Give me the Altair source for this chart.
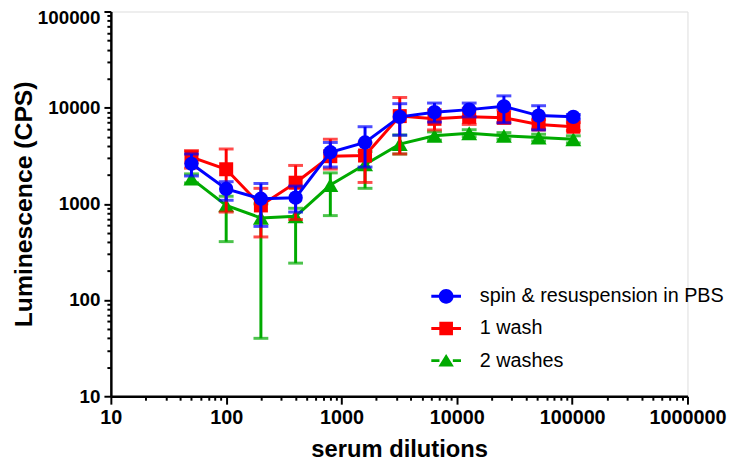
import altair as alt
import pandas as pd

dilutions = [50, 100, 200, 400, 800, 1600, 3200, 6400, 12800, 25600, 51200, 102400]
series_names = ["spin & resuspension in PBS", "1 wash", "2 washes"]
colors = ["#0000FF", "#FF0000", "#00AA00"]

blue_mean = [2610, 1430, 1130, 1160, 3440, 4350, 8030, 8980, 9550, 10330, 8280, 8030]
blue_hi = [3300, 1700, 1630, 1530, 4350, 6340, 11000, 11170, 11170, 13270, 10480, 8500]
blue_lo = [1950, 1090, 583, 822, 2415, 2415, 5170, 7090, 8030, 6970, 5870, 7600]

red_mean = [3060, 2290, 963, 1660, 3130, 3180, 8170, 7660, 8030, 7850, 6700, 6340]
red_hi = [3580, 3720, 1450, 2510, 4700, 4300, 12770, 9500, 9800, 9500, 7500, 7000]
red_lo = [2350, 822, 453, 687, 2300, 1670, 3300, 5870, 6700, 6970, 6000, 5800]

green_mean = [1830, 963, 714, 743, 1570, 2570, 4180, 5100, 5420, 5100, 4900, 4700]
green_hi = [2050, 1200, 1000, 900, 2100, 3500, 5200, 5600, 5900, 5500, 5300, 5100]
green_lo = [1650, 405, 40, 242, 755, 1450, 3300, 4600, 5000, 4700, 4500, 4300]

tick_values = [k * 10 ** e for e in range(1, 6) for k in range(1, 10)] + [1000000]
point_shapes = ["circle", "square", "triangle-up"]
point_sizes = [210, 200, 260]
legend_paths = [
    "M-1,-0.1H-0.45V0.1H-1Z M0.45,-0.1H1V0.1H0.45Z M0.5,0A0.5,0.5 0 1,1 -0.5,0A0.5,0.5 0 1,1 0.5,0Z",
    "M-1,-0.1H-0.45V0.1H-1Z M0.45,-0.1H1V0.1H0.45Z M-0.46,-0.46H0.46V0.46H-0.46Z",
    "M-1,-0.1H-0.45V0.1H-1Z M0.45,-0.1H1V0.1H0.45Z M0,-0.45L0.52,0.4L-0.52,0.4Z",
]

rows = []
for name, m, lo, hi in zip(series_names,
                           [blue_mean, red_mean, green_mean],
                           [blue_lo, red_lo, green_lo],
                           [blue_hi, red_hi, green_hi]):
    for x, a, b, c in zip(dilutions, m, lo, hi):
        rows.append({"series": name, "x": x, "mean": a, "lo": b, "hi": c})
df = pd.DataFrame(rows)

FONT = "Liberation Sans"
is_major = "abs(log(datum.value)/LN10 - round(log(datum.value)/LN10)) < 0.001"
label_expr = f"{is_major} ? format(datum.value, 'd') : ''"

xaxis = alt.Axis(
    title="serum dilutions", values=tick_values, labelExpr=label_expr,
    labelOverlap=False, labelFlush=False, grid=False,
    tickSize={"condition": {"test": is_major, "value": 8}, "value": 4},
    tickWidth=2, tickColor="black", domainColor="black", domainWidth=2.5,
    labelFont=FONT, labelFontSize=20, labelFontWeight="bold", labelColor="black",
    labelPadding=4, titleFont=FONT, titleFontSize=24, titleFontWeight="bold",
    titleColor="black", titlePadding=10,
)
yaxis = alt.Axis(
    title="Luminescence (CPS)", values=tick_values[:-1], labelExpr=label_expr,
    labelOverlap=False, labelFlush=False, grid=False,
    tickSize={"condition": {"test": is_major, "value": 7}, "value": 4},
    labelOffset={"condition": {"test": "datum.value >= 99999", "value": 6}, "value": 0},
    tickWidth=2, tickColor="black", domainColor="black", domainWidth=2.5,
    labelFont=FONT, labelFontSize=19, labelFontWeight="bold", labelColor="black",
    labelPadding=4, titleFont=FONT, titleFontSize=25, titleFontWeight="bold",
    titleColor="black", titlePadding=1,
)

xscale = alt.Scale(type="log", domain=[10, 1000000], nice=False)
yscale = alt.Scale(type="log", domain=[10, 100000], nice=False)
cscale = alt.Scale(domain=series_names, range=colors)

X = alt.X("x:Q", scale=xscale, axis=xaxis)
no_legend_color = alt.Color("series:N", scale=cscale, legend=None)

layers = []
for idx in [2, 1, 0]:
    name = series_names[idx]
    base = alt.Chart(df).transform_filter(alt.datum.series == name)
    layers.append(base.mark_rule(strokeWidth=3).encode(
        x=X, y=alt.Y("lo:Q", scale=yscale, axis=yaxis), y2="hi:Q", color=no_legend_color))
    for f in ["lo", "hi"]:
        layers.append(base.mark_tick(orient="horizontal", size=15, thickness=3).encode(
            x=X, y=alt.Y(f"{f}:Q", scale=yscale, axis=yaxis), color=no_legend_color))
    layers.append(base.mark_line(strokeWidth=3).encode(
        x=X, y=alt.Y("mean:Q", scale=yscale, axis=yaxis), color=no_legend_color))
    layers.append(base.mark_point(shape=point_shapes[idx], filled=True, opacity=1,
                                  size=point_sizes[idx]).encode(
        x=X, y=alt.Y("mean:Q", scale=yscale, axis=yaxis), color=no_legend_color))

legend = alt.Legend(
    title=None, orient="none", legendX=324, legendY=273, padding=0,
    labelFont=FONT, labelFontSize=20, labelColor="black", labelOffset=19,
    labelLimit=0, symbolSize=900, symbolStrokeWidth=0, symbolOpacity=1, rowPadding=7.5,
)
legend_layer = alt.Chart(df).transform_filter("false").mark_point(
    filled=True, opacity=1, size=900).encode(
    x=X, y=alt.Y("mean:Q", scale=yscale, axis=yaxis),
    color=alt.Color("series:N", scale=cscale, legend=legend),
    shape=alt.Shape("series:N", scale=alt.Scale(domain=series_names, range=legend_paths),
                    legend=legend),
)
layers.append(legend_layer)

chart = alt.layer(*layers).resolve_scale(
    color="independent", shape="independent"
).properties(
    width=583, height=389,
    padding={"left": 104, "top": 1, "right": 43, "bottom": 68},
    autosize=alt.AutoSizeParams(type="none"),
).configure_view(stroke=None).configure(background="white")

chart.save("out.html", embed_options={"renderer": "svg", "actions": False})
